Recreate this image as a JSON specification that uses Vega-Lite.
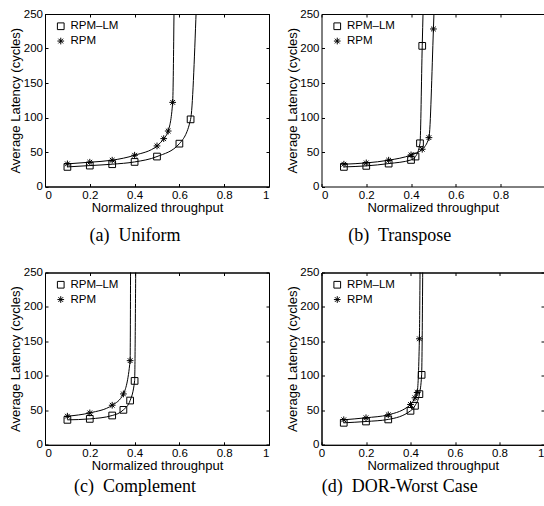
{
  "$schema": "https://vega.github.io/schema/vega-lite/v6.json",
  "background": "white",
  "padding": {"left": 9, "top": 7, "right": 0, "bottom": 0},
  "config": {
    "view": {"stroke": "black", "strokeWidth": 1},
    "font": "Liberation Sans",
    "axis": {
      "grid": false, "domainColor": "black", "domainWidth": 1,
      "tickColor": "black", "tickSize": -3, "tickWidth": 1,
      "labelFont": "Liberation Sans", "labelFontSize": 11.5, "labelColor": "black",
      "titleFont": "Liberation Sans", "titleFontSize": 13, "titleFontWeight": "normal", "titleColor": "black"
    },
    "axisX": {"labelPadding": 5.8},
    "axisY": {"labelPadding": 5.5},
    "title": {"font": "Liberation Serif", "fontSize": 18, "fontWeight": "normal", "color": "black", "orient": "bottom", "anchor": "middle", "frame": "group"},
    "legend": {
      "title": null, "orient": "none", "labelFont": "Liberation Sans", "labelFontSize": 11.5, "labelColor": "black",
      "symbolStrokeWidth": 1, "symbolSize": 45, "labelOffset": 4, "rowPadding": 1.8, "padding": 0,
      "symbolStrokeColor": "black", "symbolFillColor": "transparent"
    }
  },
  "datasets": {
    "lat": [
      {"p": "a", "s": "RPM–LM", "x": 0.1, "y": 28.4, "m": 1},
      {"p": "a", "s": "RPM–LM", "x": 0.2, "y": 30.3, "m": 1},
      {"p": "a", "s": "RPM–LM", "x": 0.3, "y": 32.3, "m": 1},
      {"p": "a", "s": "RPM–LM", "x": 0.4, "y": 35.6, "m": 1},
      {"p": "a", "s": "RPM–LM", "x": 0.5, "y": 43.4, "m": 1},
      {"p": "a", "s": "RPM–LM", "x": 0.6, "y": 62.1, "m": 1},
      {"p": "a", "s": "RPM–LM", "x": 0.65, "y": 97.3, "m": 1},
      {"p": "a", "s": "RPM–LM", "x": 0.675, "y": 256, "m": 0},
      {"p": "a", "s": "RPM", "x": 0.1, "y": 32.8, "m": 1},
      {"p": "a", "s": "RPM", "x": 0.2, "y": 35.2, "m": 1},
      {"p": "a", "s": "RPM", "x": 0.3, "y": 38.1, "m": 1},
      {"p": "a", "s": "RPM", "x": 0.4, "y": 45.3, "m": 1},
      {"p": "a", "s": "RPM", "x": 0.5, "y": 58.8, "m": 1},
      {"p": "a", "s": "RPM", "x": 0.53, "y": 69.4, "m": 1},
      {"p": "a", "s": "RPM", "x": 0.55, "y": 80.4, "m": 1},
      {"p": "a", "s": "RPM", "x": 0.57, "y": 121.9, "m": 1},
      {"p": "a", "s": "RPM", "x": 0.576, "y": 256, "m": 0},
      {"p": "b", "s": "RPM–LM", "x": 0.1, "y": 28.4, "m": 1},
      {"p": "b", "s": "RPM–LM", "x": 0.2, "y": 29.9, "m": 1},
      {"p": "b", "s": "RPM–LM", "x": 0.3, "y": 33.2, "m": 1},
      {"p": "b", "s": "RPM–LM", "x": 0.4, "y": 38.5, "m": 1},
      {"p": "b", "s": "RPM–LM", "x": 0.42, "y": 43.4, "m": 1},
      {"p": "b", "s": "RPM–LM", "x": 0.44, "y": 62.6, "m": 1},
      {"p": "b", "s": "RPM–LM", "x": 0.45, "y": 203.8, "m": 1},
      {"p": "b", "s": "RPM–LM", "x": 0.454, "y": 256, "m": 0},
      {"p": "b", "s": "RPM", "x": 0.1, "y": 32.3, "m": 1},
      {"p": "b", "s": "RPM", "x": 0.2, "y": 34.2, "m": 1},
      {"p": "b", "s": "RPM", "x": 0.3, "y": 38.1, "m": 1},
      {"p": "b", "s": "RPM", "x": 0.4, "y": 45.8, "m": 1},
      {"p": "b", "s": "RPM", "x": 0.45, "y": 54, "m": 1},
      {"p": "b", "s": "RPM", "x": 0.48, "y": 70.8, "m": 1},
      {"p": "b", "s": "RPM", "x": 0.5, "y": 228.3, "m": 1},
      {"p": "b", "s": "RPM", "x": 0.503, "y": 256, "m": 0},
      {"p": "c", "s": "RPM–LM", "x": 0.1, "y": 36.2, "m": 1},
      {"p": "c", "s": "RPM–LM", "x": 0.2, "y": 37.6, "m": 1},
      {"p": "c", "s": "RPM–LM", "x": 0.3, "y": 42.5, "m": 1},
      {"p": "c", "s": "RPM–LM", "x": 0.35, "y": 50.7, "m": 1},
      {"p": "c", "s": "RPM–LM", "x": 0.38, "y": 64.2, "m": 1},
      {"p": "c", "s": "RPM–LM", "x": 0.4, "y": 92.7, "m": 1},
      {"p": "c", "s": "RPM–LM", "x": 0.405, "y": 256, "m": 0},
      {"p": "c", "s": "RPM", "x": 0.1, "y": 41.5, "m": 1},
      {"p": "c", "s": "RPM", "x": 0.2, "y": 46.3, "m": 1},
      {"p": "c", "s": "RPM", "x": 0.3, "y": 57.4, "m": 1},
      {"p": "c", "s": "RPM", "x": 0.35, "y": 73.8, "m": 1},
      {"p": "c", "s": "RPM", "x": 0.38, "y": 122.1, "m": 1},
      {"p": "c", "s": "RPM", "x": 0.382, "y": 256, "m": 0},
      {"p": "d", "s": "RPM–LM", "x": 0.1, "y": 31.9, "m": 1},
      {"p": "d", "s": "RPM–LM", "x": 0.2, "y": 33.8, "m": 1},
      {"p": "d", "s": "RPM–LM", "x": 0.3, "y": 36.8, "m": 1},
      {"p": "d", "s": "RPM–LM", "x": 0.4, "y": 49.3, "m": 1},
      {"p": "d", "s": "RPM–LM", "x": 0.42, "y": 56.6, "m": 1},
      {"p": "d", "s": "RPM–LM", "x": 0.44, "y": 73.5, "m": 1},
      {"p": "d", "s": "RPM–LM", "x": 0.45, "y": 101.5, "m": 1},
      {"p": "d", "s": "RPM–LM", "x": 0.455, "y": 256, "m": 0},
      {"p": "d", "s": "RPM", "x": 0.1, "y": 36.3, "m": 1},
      {"p": "d", "s": "RPM", "x": 0.2, "y": 39.2, "m": 1},
      {"p": "d", "s": "RPM", "x": 0.3, "y": 43.5, "m": 1},
      {"p": "d", "s": "RPM", "x": 0.4, "y": 58.5, "m": 1},
      {"p": "d", "s": "RPM", "x": 0.42, "y": 68.2, "m": 1},
      {"p": "d", "s": "RPM", "x": 0.43, "y": 75.9, "m": 1},
      {"p": "d", "s": "RPM", "x": 0.44, "y": 153.8, "m": 1},
      {"p": "d", "s": "RPM", "x": 0.443, "y": 256, "m": 0}
    ]
  },
  "columns": 2,
  "spacing": {"row": 85.5, "column": 52.5},
  "bounds": "flush",
  "resolve": {"scale": {"shape": "independent"}, "legend": {"shape": "independent"}},
  "concat": [
    {
      "width": 224, "height": 172.5,
      "data": {"name": "lat"},
      "transform": [{"filter": "datum.p == 'a'"}],
      "title": {"text": "(a)\u00a0 Uniform", "dx": -22, "offset": 13},
      "layer": [
        {
          "mark": {"type": "line", "interpolate": "monotone", "clip": true, "color": "black", "strokeWidth": 1},
          "encoding": {
            "x": {"field": "x", "type": "quantitative", "scale": {"domain": [0, 1], "nice": false, "zero": false},
                  "axis": {"orient": "bottom", "values": [0, 0.2, 0.4, 0.6, 0.8, 1], "format": ".1~f", "title": "Normalized throughput", "titleY": 14.5}},
            "y": {"field": "y", "type": "quantitative", "scale": {"domain": [0, 250], "nice": false},
                  "axis": {"orient": "left", "values": [0, 50, 100, 150, 200, 250], "format": "d", "title": "Average Latency (cycles)", "titleX": -22.5, "titleBaseline": "bottom"}},
            "detail": {"field": "s"}
          }
        },
        {
          "transform": [{"filter": "datum.m == 1"}],
          "mark": {"type": "point", "filled": false, "color": "black", "size": 45, "strokeWidth": 1, "opacity": 1},
          "encoding": {
            "x": {"field": "x", "type": "quantitative", "axis": {"orient": "top", "values": [0, 0.2, 0.4, 0.6, 0.8, 1], "labels": false, "title": null}},
            "y": {"field": "y", "type": "quantitative", "axis": {"orient": "right", "values": [0, 50, 100, 150, 200, 250], "labels": false, "title": null}},
            "shape": {"field": "s", "type": "nominal",
                      "scale": {"domain": ["RPM–LM", "RPM"], "range": ["square", "M-1,0L1,0M0,-1L0,1M-0.7,-0.7L0.7,0.7M-0.7,0.7L0.7,-0.7"]},
                      "legend": {"legendX": 10, "legendY": 6.5}}
          }
        }
      ],
      "resolve": {"axis": {"x": "independent", "y": "independent"}}
    },
    {
      "width": 222.5, "height": 172.5,
      "view": {"stroke": null},
      "data": {"name": "lat"},
      "transform": [{"filter": "datum.p == 'b'"}],
      "title": {"text": "(b)\u00a0 Transpose", "dx": -33, "offset": 13},
      "layer": [
        {
          "mark": {"type": "line", "interpolate": "monotone", "clip": true, "color": "black", "strokeWidth": 1},
          "encoding": {
            "x": {"field": "x", "type": "quantitative", "scale": {"domain": [0, 0.994], "nice": false, "zero": false},
                  "axis": {"orient": "bottom", "values": [0, 0.2, 0.4, 0.6, 0.8], "format": ".1~f", "title": "Normalized throughput", "titleY": 14.5}},
            "y": {"field": "y", "type": "quantitative", "scale": {"domain": [0, 250], "nice": false},
                  "axis": {"orient": "left", "values": [0, 50, 100, 150, 200, 250], "format": "d", "title": "Average Latency (cycles)", "titleX": -22.5, "titleBaseline": "bottom"}},
            "detail": {"field": "s"}
          }
        },
        {
          "transform": [{"filter": "datum.m == 1"}],
          "mark": {"type": "point", "filled": false, "color": "black", "size": 45, "strokeWidth": 1, "opacity": 1},
          "encoding": {
            "x": {"field": "x", "type": "quantitative", "axis": {"orient": "top", "values": [0, 0.2, 0.4, 0.6, 0.8], "labels": false, "title": null}},
            "y": {"field": "y", "type": "quantitative", "axis": null},
            "shape": {"field": "s", "type": "nominal",
                      "scale": {"domain": ["RPM–LM", "RPM"], "range": ["square", "M-1,0L1,0M0,-1L0,1M-0.7,-0.7L0.7,0.7M-0.7,0.7L0.7,-0.7"]},
                      "legend": {"legendX": 10, "legendY": 6.5}}
          }
        }
      ],
      "resolve": {"axis": {"x": "independent", "y": "independent"}}
    },
    {
      "width": 224, "height": 172.3,
      "data": {"name": "lat"},
      "transform": [{"filter": "datum.p == 'c'"}],
      "title": {"text": "(c)\u00a0 Complement", "dx": -22, "offset": 5.5},
      "layer": [
        {
          "mark": {"type": "line", "interpolate": "monotone", "clip": true, "color": "black", "strokeWidth": 1},
          "encoding": {
            "x": {"field": "x", "type": "quantitative", "scale": {"domain": [0, 1], "nice": false, "zero": false},
                  "axis": {"orient": "bottom", "values": [0, 0.2, 0.4, 0.6, 0.8, 1], "format": ".1~f", "title": "Normalized throughput", "titleY": 14.5}},
            "y": {"field": "y", "type": "quantitative", "scale": {"domain": [0, 250], "nice": false},
                  "axis": {"orient": "left", "values": [0, 50, 100, 150, 200, 250], "format": "d", "title": "Average Latency (cycles)", "titleX": -22.5, "titleBaseline": "bottom"}},
            "detail": {"field": "s"}
          }
        },
        {
          "transform": [{"filter": "datum.m == 1"}],
          "mark": {"type": "point", "filled": false, "color": "black", "size": 45, "strokeWidth": 1, "opacity": 1},
          "encoding": {
            "x": {"field": "x", "type": "quantitative", "axis": {"orient": "top", "values": [0, 0.2, 0.4, 0.6, 0.8, 1], "labels": false, "title": null}},
            "y": {"field": "y", "type": "quantitative", "axis": {"orient": "right", "values": [0, 50, 100, 150, 200, 250], "labels": false, "title": null}},
            "shape": {"field": "s", "type": "nominal",
                      "scale": {"domain": ["RPM–LM", "RPM"], "range": ["square", "M-1,0L1,0M0,-1L0,1M-0.7,-0.7L0.7,0.7M-0.7,0.7L0.7,-0.7"]},
                      "legend": {"legendX": 10, "legendY": 6.5}}
          }
        }
      ],
      "resolve": {"axis": {"x": "independent", "y": "independent"}}
    },
    {
      "width": 222.5, "height": 172.3,
      "data": {"name": "lat"},
      "transform": [{"filter": "datum.p == 'd'"}],
      "title": {"text": "(d)\u00a0 DOR-Worst Case", "dx": -33, "offset": 5.5},
      "layer": [
        {
          "mark": {"type": "line", "interpolate": "monotone", "clip": true, "color": "black", "strokeWidth": 1},
          "encoding": {
            "x": {"field": "x", "type": "quantitative", "scale": {"domain": [0, 1], "nice": false, "zero": false},
                  "axis": {"orient": "bottom", "values": [0, 0.2, 0.4, 0.6, 0.8, 1], "format": ".1~f", "title": "Normalized throughput", "titleY": 14.5,
                           "labelAlign": {"condition": {"test": "datum.value == 1", "value": "right"}, "value": "center"}}},
            "y": {"field": "y", "type": "quantitative", "scale": {"domain": [0, 250], "nice": false},
                  "axis": {"orient": "left", "values": [0, 50, 100, 150, 200, 250], "format": "d", "title": "Average Latency (cycles)", "titleX": -22.5, "titleBaseline": "bottom"}},
            "detail": {"field": "s"}
          }
        },
        {
          "transform": [{"filter": "datum.m == 1"}],
          "mark": {"type": "point", "filled": false, "color": "black", "size": 45, "strokeWidth": 1, "opacity": 1},
          "encoding": {
            "x": {"field": "x", "type": "quantitative", "axis": {"orient": "top", "values": [0, 0.2, 0.4, 0.6, 0.8, 1], "labels": false, "title": null}},
            "y": {"field": "y", "type": "quantitative", "axis": {"orient": "right", "values": [0, 50, 100, 150, 200, 250], "labels": false, "title": null}},
            "shape": {"field": "s", "type": "nominal",
                      "scale": {"domain": ["RPM–LM", "RPM"], "range": ["square", "M-1,0L1,0M0,-1L0,1M-0.7,-0.7L0.7,0.7M-0.7,0.7L0.7,-0.7"]},
                      "legend": {"legendX": 10, "legendY": 6.5}}
          }
        }
      ],
      "resolve": {"axis": {"x": "independent", "y": "independent"}}
    }
  ]
}
